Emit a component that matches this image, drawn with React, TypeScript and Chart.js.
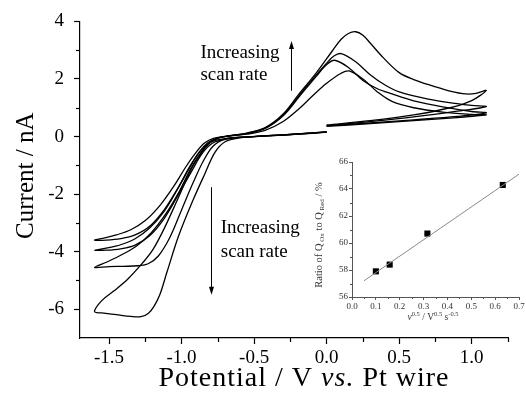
import React, { useEffect, useRef } from "react";
import { Chart, registerables } from "chart.js";

Chart.register(...registerables);

const FONT = "'Liberation Serif', 'Times New Roman', Times, serif";

// ---- Main cyclic voltammograms (potential V, current nA), in sweep order ----
const cv1: [number, number][] = [
  [0, 0.35], [0.3, 0.45], [0.6, 0.55], [0.9, 0.66], [1.1, 0.75],
  [1.0, 0.77], [0.8, 0.85], [0.6, 1.0], [0.45, 1.22], [0.35, 1.55], [0.25, 2.0], [0.155, 2.28], [0.1, 2.2],
  [0.0, 1.85], [-0.1, 1.4], [-0.2, 0.92], [-0.3, 0.52], [-0.42, 0.22], [-0.55, 0.08], [-0.68, 0.02],
  [-0.78, -0.06], [-0.84, -0.22], [-0.9, -0.55], [-0.97, -1.05], [-1.05, -1.7], [-1.15, -2.4],
  [-1.25, -2.92], [-1.35, -3.24], [-1.45, -3.42], [-1.53, -3.52], [-1.6, -3.6],
  [-1.52, -3.6], [-1.42, -3.55], [-1.32, -3.42], [-1.22, -3.12], [-1.12, -2.55], [-1.02, -1.75],
  [-0.94, -1.05], [-0.87, -0.5], [-0.8, -0.2], [-0.7, -0.07], [-0.5, 0.0], [-0.25, 0.07], [0, 0.15],
];
const cv2: [number, number][] = [
  [0, 0.37], [0.3, 0.47], [0.6, 0.58], [0.9, 0.7], [1.1, 0.82],
  [1.0, 0.87], [0.8, 1.03], [0.6, 1.24], [0.45, 1.48], [0.35, 1.66], [0.25, 1.95], [0.15, 2.4], [0.055, 2.65],
  [0.0, 2.5], [-0.07, 2.1], [-0.19, 1.38], [-0.3, 0.72], [-0.42, 0.29], [-0.55, 0.1], [-0.67, 0.02],
  [-0.76, -0.06], [-0.82, -0.22], [-0.88, -0.55], [-0.95, -1.1], [-1.03, -1.85], [-1.12, -2.6],
  [-1.22, -3.18], [-1.32, -3.55], [-1.42, -3.76], [-1.52, -3.88], [-1.6, -3.95],
  [-1.52, -3.95], [-1.42, -3.9], [-1.32, -3.77], [-1.22, -3.45], [-1.12, -2.85], [-1.02, -2.0],
  [-0.93, -1.2], [-0.86, -0.6], [-0.79, -0.24], [-0.69, -0.08], [-0.5, 0.0], [-0.25, 0.07], [0, 0.16],
];
const cv3: [number, number][] = [
  [0, 0.38], [0.3, 0.52], [0.6, 0.68], [0.9, 0.88], [1.1, 1.04],
  [1.0, 1.08], [0.9, 1.14], [0.7, 1.3], [0.5, 1.55], [0.4, 1.8], [0.3, 2.15], [0.2, 2.6], [0.1, 2.88],
  [0.05, 2.8], [0.0, 2.55], [-0.07, 2.15], [-0.19, 1.42], [-0.3, 0.74], [-0.42, 0.3], [-0.55, 0.11],
  [-0.67, 0.02], [-0.75, -0.06], [-0.81, -0.22], [-0.87, -0.58], [-0.94, -1.15], [-1.02, -1.95],
  [-1.11, -2.7], [-1.21, -3.35], [-1.31, -3.8], [-1.41, -4.1], [-1.51, -4.35], [-1.6, -4.55],
  [-1.5, -4.52], [-1.4, -4.51], [-1.3, -4.49], [-1.23, -4.42], [-1.16, -4.15], [-1.08, -3.5],
  [-1.0, -2.55], [-0.92, -1.6], [-0.85, -0.85], [-0.78, -0.32], [-0.7, -0.1], [-0.55, -0.01],
  [-0.3, 0.06], [0, 0.16],
];
const cv4: [number, number][] = [
  [0, 0.4], [0.3, 0.55], [0.6, 0.75], [0.85, 1.0], [1.0, 1.25], [1.1, 1.6],
  [1.03, 1.5], [0.96, 1.48], [0.85, 1.58], [0.73, 1.76], [0.6, 1.98], [0.5, 2.22], [0.39, 2.74],
  [0.3, 3.25], [0.25, 3.52], [0.2, 3.64], [0.15, 3.58], [0.1, 3.38], [0.04, 2.98], [-0.07, 2.22],
  [-0.19, 1.48], [-0.3, 0.78], [-0.42, 0.32], [-0.55, 0.12], [-0.66, 0.03],
  [-0.74, -0.05], [-0.8, -0.2], [-0.86, -0.55], [-0.93, -1.1], [-1.02, -2.1], [-1.12, -3.2],
  [-1.2, -3.95], [-1.27, -4.4], [-1.37, -4.95], [-1.47, -5.38], [-1.55, -5.7], [-1.6, -6.08],
  [-1.55, -6.13], [-1.45, -6.19], [-1.35, -6.25], [-1.28, -6.26], [-1.23, -6.15], [-1.19, -5.9],
  [-1.15, -5.5], [-1.1, -4.7], [-1.02, -3.45], [-0.92, -2.2], [-0.84, -1.3], [-0.77, -0.55],
  [-0.7, -0.18], [-0.6, -0.05], [-0.4, 0.02], [-0.2, 0.08], [0, 0.15],
];
const cvSeries = [cv1, cv2, cv3, cv4];

const xTicks = [-1.5, -1.0, -0.5, 0, 0.5, 1.0];
const xMinor = [-1.25, -0.75, -0.25, 0.25, 0.75, 1.25];
const yTicks = [-6, -4, -2, 0, 2, 4];
const yMinor = [-5, -3, -1, 1, 3];

// ---- Inset: charge ratio vs sqrt(scan rate) ----
const insetX = [0.1, 0.158, 0.316, 0.632];
const insetY = [57.9, 58.4, 60.7, 64.3];
const fitX = [0.05, 0.7];
const fitY = [57.2, 65.1];
const insetXTicks = [0, 0.1, 0.2, 0.3, 0.4, 0.5, 0.6, 0.7];
const insetXMinor = [0.05, 0.15, 0.25, 0.35, 0.45, 0.55, 0.65];
const insetYTicks = [56, 58, 60, 62, 64, 66];
const insetYMinor = [57, 59, 61, 63, 65];

// annotations (data coordinates of main chart)
const annotations = {
  upText: { x: -0.87, lines: [2.74, 1.98], text: ["Increasing", "scan rate"] },
  downText: { x: -0.73, lines: [-3.36, -4.18], text: ["Increasing", "scan rate"] },
  upArrow: { x: -0.243, from: 1.59, to: 3.32 },
  downArrow: { x: -0.795, from: -1.76, to: -5.5 },
};

function arrow(ctx: CanvasRenderingContext2D, x: number, y0: number, y1: number) {
  const dir = y1 < y0 ? -1 : 1;
  ctx.beginPath();
  ctx.moveTo(x, y0);
  ctx.lineTo(x, y1 - dir * 6);
  ctx.stroke();
  ctx.beginPath();
  ctx.moveTo(x, y1);
  ctx.lineTo(x - 2.5, y1 - dir * 8);
  ctx.lineTo(x + 2.5, y1 - dir * 8);
  ctx.closePath();
  ctx.fill();
}

function drawRuns(ctx: CanvasRenderingContext2D, runs: { t: string; f: string; dy?: number }[], x: number, y: number, align: "center" | "left") {
  let total = 0;
  for (const r of runs) {
    ctx.font = r.f;
    total += ctx.measureText(r.t).width;
  }
  let cx = align === "center" ? x - total / 2 : x;
  ctx.textAlign = "left";
  ctx.textBaseline = "alphabetic";
  for (const r of runs) {
    ctx.font = r.f;
    ctx.fillText(r.t, cx, y + (r.dy || 0));
    cx += ctx.measureText(r.t).width;
  }
}

const mainDecor = {
  id: "mainDecor",
  afterDraw(chart: any) {
    const ctx: CanvasRenderingContext2D = chart.ctx;
    const xs = chart.scales.x;
    const ys = chart.scales.y;
    const area = chart.chartArea;
    ctx.save();
    ctx.strokeStyle = "#000";
    ctx.fillStyle = "#000";
    ctx.lineWidth = 1.2;
    // minor ticks
    for (const v of xMinor) {
      const px = Math.round(xs.getPixelForValue(v)) + 0.5;
      ctx.beginPath();
      ctx.moveTo(px, area.bottom);
      ctx.lineTo(px, area.bottom + 4);
      ctx.stroke();
    }
    for (const v of yMinor) {
      const py = Math.round(ys.getPixelForValue(v)) + 0.5;
      ctx.beginPath();
      ctx.moveTo(area.left, py);
      ctx.lineTo(area.left - 4, py);
      ctx.stroke();
    }
    // axis titles
    const f = `28px ${FONT}`;
    (ctx as any).letterSpacing = "1px";
    drawRuns(ctx, [
      { t: "Potential / V ", f },
      { t: "vs.", f: `italic 28px ${FONT}` },
      { t: " Pt wire", f },
    ], 304, 386, "center");
    (ctx as any).letterSpacing = "0px";
    ctx.save();
    ctx.translate(33, (area.top + area.bottom) / 2 - 4);
    ctx.rotate(-Math.PI / 2);
    ctx.font = `25px ${FONT}`;
    ctx.textAlign = "center";
    ctx.textBaseline = "alphabetic";
    ctx.fillText("Current / nA", 0, 0);
    ctx.restore();
    // annotation texts
    ctx.font = `19px ${FONT}`;
    ctx.textAlign = "left";
    ctx.textBaseline = "alphabetic";
    for (const a of [annotations.upText, annotations.downText]) {
      a.text.forEach((t, i) => {
        ctx.fillText(t, xs.getPixelForValue(a.x), ys.getPixelForValue(a.lines[i]));
      });
    }
    ctx.lineWidth = 1;
    for (const a of [annotations.upArrow, annotations.downArrow]) {
      arrow(ctx, Math.round(xs.getPixelForValue(a.x)) + 0.5, ys.getPixelForValue(a.from), ys.getPixelForValue(a.to));
    }
    ctx.restore();
  },
};

const insetDecor = {
  id: "insetDecor",
  afterDraw(chart: any) {
    const ctx: CanvasRenderingContext2D = chart.ctx;
    const xs = chart.scales.x;
    const ys = chart.scales.y;
    const area = chart.chartArea;
    ctx.save();
    ctx.strokeStyle = "#555";
    ctx.fillStyle = "#333";
    ctx.lineWidth = 1;
    for (const v of insetXMinor) {
      const px = Math.round(xs.getPixelForValue(v)) + 0.5;
      ctx.beginPath();
      ctx.moveTo(px, area.bottom);
      ctx.lineTo(px, area.bottom + 2);
      ctx.stroke();
    }
    for (const v of insetYMinor) {
      const py = Math.round(ys.getPixelForValue(v)) + 0.5;
      ctx.beginPath();
      ctx.moveTo(area.left, py);
      ctx.lineTo(area.left - 2, py);
      ctx.stroke();
    }
    const f = `9.5px ${FONT}`;
    const fs = `6.5px ${FONT}`;
    drawRuns(ctx, [
      { t: "\u03bd", f: `italic 9.5px ${FONT}` },
      { t: "0.5", f: fs, dy: -4 },
      { t: " / V", f },
      { t: "0.5", f: fs, dy: -4 },
      { t: " s", f },
      { t: "-0.5", f: fs, dy: -4 },
    ], 133, 170, "center");
    ctx.save();
    ctx.translate(21.5, 85);
    ctx.rotate(-Math.PI / 2);
    const g = `10.5px ${FONT}`;
    const gs = `7px ${FONT}`;
    drawRuns(ctx, [
      { t: "Ratio of Q", f: g },
      { t: " Ox", f: gs, dy: 2.5 },
      { t: " to Q", f: g },
      { t: " Red", f: gs, dy: 2.5 },
      { t: " / %", f: g },
    ], 0, 0, "center");
    ctx.restore();
    ctx.restore();
  },
};

export default function App() {
  const mainRef = useRef<HTMLCanvasElement>(null);
  const insetRef = useRef<HTMLCanvasElement>(null);

  useEffect(() => {
    document.body.style.margin = "0";
    const mainChart = new Chart(mainRef.current as HTMLCanvasElement, {
      type: "scatter",
      data: {
        datasets: cvSeries.map((s) => ({
          data: s.map(([x, y]) => ({ x, y })),
          showLine: true,
          borderColor: "#000",
          borderWidth: 1.3,
          pointRadius: 0,
          tension: 0.35,
          fill: false,
        })),
      },
      options: {
        animation: false,
        responsive: false,
        devicePixelRatio: 1,
        layout: { padding: { top: 21, right: 18, left: 0, bottom: 0 } },
        plugins: { legend: { display: false }, tooltip: { enabled: false } },
        scales: {
          x: {
            type: "linear",
            min: -1.7,
            max: 1.25,
            afterBuildTicks: (s: any) => { s.ticks = xTicks.map((v) => ({ value: v })); },
            afterFit: (s: any) => { s.height = 62; },
            grid: { display: true, drawOnChartArea: false, drawTicks: true, tickLength: 6, tickColor: "#000", tickWidth: 1.2 },
            border: { display: true, color: "#000", width: 1.2 },
            ticks: {
              color: "#000",
              font: { family: FONT, size: 19 },
              padding: 3,
              maxRotation: 0,
              autoSkip: false,
              callback: (v: any) => Number(v).toFixed(1),
            },
          },
          y: {
            type: "linear",
            min: -7,
            max: 4,
            afterBuildTicks: (s: any) => { s.ticks = yTicks.map((v) => ({ value: v })); },
            afterFit: (s: any) => { s.width = 80; },
            grid: { display: true, drawOnChartArea: false, drawTicks: true, tickLength: 6, tickColor: "#000", tickWidth: 1.2 },
            border: { display: true, color: "#000", width: 1.2 },
            ticks: {
              color: "#000",
              font: { family: FONT, size: 19 },
              padding: 10,
              autoSkip: false,
              callback: (v: any) => String(v),
            },
          },
        },
      },
      plugins: [mainDecor],
    } as any);

    const insetChart = new Chart(insetRef.current as HTMLCanvasElement, {
      type: "scatter",
      data: {
        datasets: [
          {
            data: fitX.map((x, i) => ({ x, y: fitY[i] })),
            showLine: true,
            borderColor: "#8a8a8a",
            borderWidth: 1,
            pointRadius: 0,
          },
          {
            data: insetX.map((x, i) => ({ x, y: insetY[i] })),
            showLine: false,
            pointStyle: "rect",
            pointRadius: 4.3,
            backgroundColor: "#000",
            borderColor: "#000",
            borderWidth: 0,
          },
        ],
      },
      options: {
        animation: false,
        responsive: false,
        devicePixelRatio: 1,
        layout: { padding: { top: 12, right: 7, left: 0, bottom: 0 } },
        plugins: { legend: { display: false }, tooltip: { enabled: false } },
        scales: {
          x: {
            type: "linear",
            min: 0,
            max: 0.7,
            afterBuildTicks: (s: any) => { s.ticks = insetXTicks.map((v) => ({ value: v })); },
            afterFit: (s: any) => { s.height = 33; },
            grid: { display: true, drawOnChartArea: false, drawTicks: true, tickLength: 3, tickColor: "#555", tickWidth: 1 },
            border: { display: true, color: "#555", width: 1 },
            ticks: {
              color: "#333",
              font: { family: FONT, size: 9 },
              padding: 1,
              maxRotation: 0,
              autoSkip: false,
              callback: (v: any) => Number(v).toFixed(1),
            },
          },
          y: {
            type: "linear",
            min: 56,
            max: 66,
            afterBuildTicks: (s: any) => { s.ticks = insetYTicks.map((v) => ({ value: v })); },
            afterFit: (s: any) => { s.width = 52; },
            grid: { display: true, drawOnChartArea: false, drawTicks: true, tickLength: 3, tickColor: "#555", tickWidth: 1 },
            border: { display: true, color: "#555", width: 1 },
            ticks: {
              color: "#333",
              font: { family: FONT, size: 9 },
              padding: 1,
              autoSkip: false,
              callback: (v: any) => String(v),
            },
          },
        },
      },
      plugins: [insetDecor],
    } as any);

    return () => {
      mainChart.destroy();
      insetChart.destroy();
    };
  }, []);

  return (
    <div style={{ position: "relative", width: 526, height: 400, background: "#fff" }}>
      <canvas ref={mainRef} width={526} height={400} style={{ position: "absolute", left: 0, top: 0 }} />
      <canvas ref={insetRef} width={226} height={180} style={{ position: "absolute", left: 300, top: 150 }} />
    </div>
  );
}
